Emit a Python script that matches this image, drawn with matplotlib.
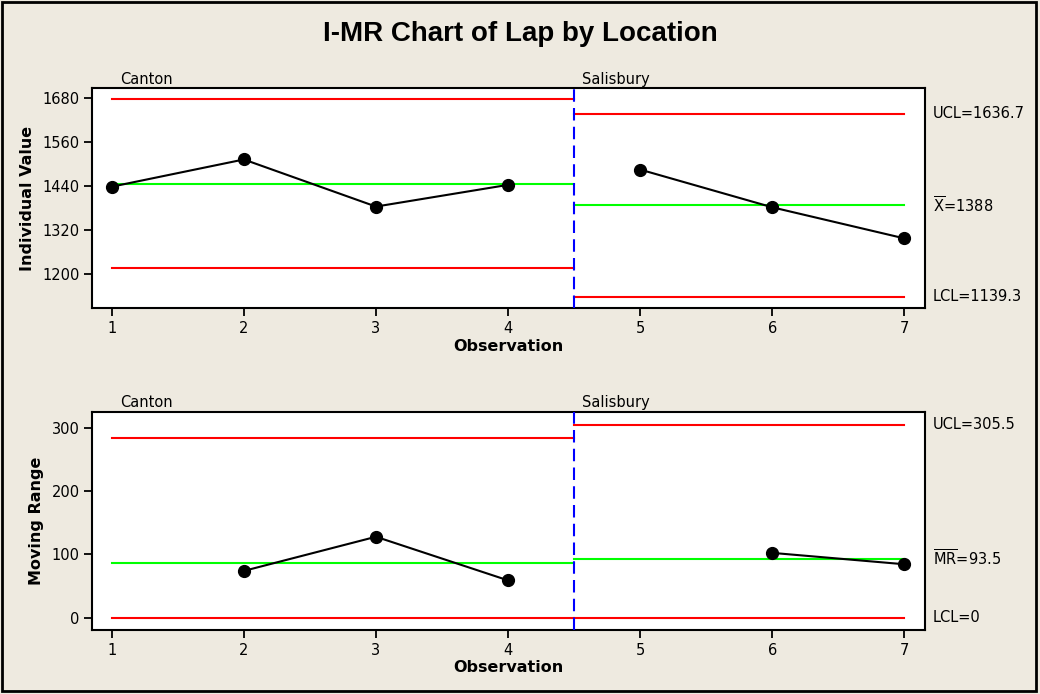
import numpy as np
import matplotlib
matplotlib.use("Agg")
import matplotlib.pyplot as plt
from matplotlib.patches import Rectangle

plt.rcParams['font.family'] = ['DejaVu Sans']
plt.rcParams['mathtext.fontset'] = 'custom'
plt.rcParams['mathtext.rm'] = 'DejaVu Sans'
plt.rcParams['mathtext.it'] = 'DejaVu Sans'

# ---------------- data ----------------
observation = [1, 2, 3, 4, 5, 6, 7]
location = ['Canton', 'Canton', 'Canton', 'Canton', 'Salisbury', 'Salisbury', 'Salisbury']
lap = [1438, 1512, 1384, 1443, 1484.5, 1382, 1297.5]
moving_range = [np.nan, 74, 128, 59, np.nan, 102.5, 84.5]

stages = ['Canton', 'Salisbury']
i_ucl = [1676, 1636.7]
i_cl = [1444.5, 1388]
i_lcl = [1216, 1139.3]
mr_ucl = [283.5, 305.5]
mr_cl = [87, 93.5]
mr_lcl = [0, 0]

i_ticks = [1200, 1320, 1440, 1560, 1680]
mr_ticks = [0, 100, 200, 300]
x_ticks = [1, 2, 3, 4, 5, 6, 7]

title = 'I-MR Chart of Lap by Location'

# ---------------- figure ----------------
bg = '#EEEAE0'
fig = plt.figure(figsize=(10.4, 6.94), dpi=100, facecolor=bg)
fig.patches.append(Rectangle((0.002, 0.004), 0.994, 0.993, transform=fig.transFigure,
                             fill=False, edgecolor='black', linewidth=2))

ax1 = fig.add_axes([0.0885, 0.5558, 0.8007, 0.3170])
ax2 = fig.add_axes([0.0885, 0.0922, 0.8007, 0.3141])

obs = np.array(observation)
loc = np.array(location)

# stage extents
extents = []
for s in stages:
    idx = np.where(loc == s)[0]
    extents.append((obs[idx[0]], obs[idx[-1]]))
boundaries = [(extents[i][1] + extents[i + 1][0]) / 2 for i in range(len(stages) - 1)]
starts = [extents[0][0]] + boundaries
ends = boundaries + [extents[-1][1]]

FS = 10.5

def draw_panel(ax, values, ucl, cl, lcl, yticks, ylim, ylabel):
    ax.set_facecolor('white')
    for k, s in enumerate(stages):
        x0, x1 = starts[k], ends[k]
        ax.plot([x0, x1], [ucl[k], ucl[k]], color='#FF0000', lw=1.5, zorder=2)
        ax.plot([x0, x1], [lcl[k], lcl[k]], color='#FF0000', lw=1.5, zorder=2)
        ax.plot([x0, x1], [cl[k], cl[k]], color='#00FF00', lw=1.5, zorder=2)
        idx = np.where(loc == s)[0]
        v = np.array(values, dtype=float)[idx]
        o = obs[idx]
        m = ~np.isnan(v)
        ax.plot(o[m], v[m], color='black', lw=1.5, marker='o', markersize=8.5, zorder=4)
    for b in boundaries:
        ax.axvline(b, color='#0000FF', lw=1.5, linestyle=(0, (6, 3)), zorder=3)
    # stage labels
    for k, s in enumerate(stages):
        xpos = starts[k] + 0.06
        ax.text(xpos, 1.008, s, transform=ax.get_xaxis_transform(), fontsize=FS,
                ha='left', va='bottom')
    ax.set_xlim(0.851, 7.154)
    ax.set_ylim(*ylim)
    ax.set_xticks(x_ticks)
    ax.set_yticks(yticks)
    ax.tick_params(axis='both', direction='out', length=6, width=1.3, labelsize=FS,
                   top=False, right=False, pad=3)
    for sp in ax.spines.values():
        sp.set_linewidth(1.5)
    ax.set_xlabel('Observation', fontsize=11.5, fontweight='bold', labelpad=2)
    ax.set_ylabel(ylabel, fontsize=11.5, fontweight='bold', labelpad=5)

draw_panel(ax1, lap, i_ucl, i_cl, i_lcl, i_ticks, (1107.6, 1705.5), 'Individual Value')
draw_panel(ax2, moving_range, mr_ucl, mr_cl, mr_lcl, mr_ticks, (-19.5, 325.3), 'Moving Range')

# right-hand labels (last stage)
def rlabel(ax, y, s):
    ax.annotate(s, xy=(1.0, y), xycoords=('axes fraction', 'data'), xytext=(6, 0),
                textcoords='offset points', fontsize=FS, ha='left', va='center',
                annotation_clip=False)

rlabel(ax1, i_ucl[-1], f'UCL={i_ucl[-1]}')
rlabel(ax1, i_cl[-1], r'$\overline{\mathrm{X}}$' + f'={i_cl[-1]:g}')
rlabel(ax1, i_lcl[-1], f'LCL={i_lcl[-1]}')
rlabel(ax2, mr_ucl[-1], f'UCL={mr_ucl[-1]}')
rlabel(ax2, mr_cl[-1], r'$\overline{\mathrm{MR}}$' + f'={mr_cl[-1]}')
rlabel(ax2, mr_lcl[-1], f'LCL={mr_lcl[-1]}')

fig.text(0.5, 0.951, title, ha='center', va='center', fontsize=20, fontweight='bold',
         family=['Liberation Sans', 'DejaVu Sans'])

fig.savefig('out.png', dpi=100, facecolor=bg)
